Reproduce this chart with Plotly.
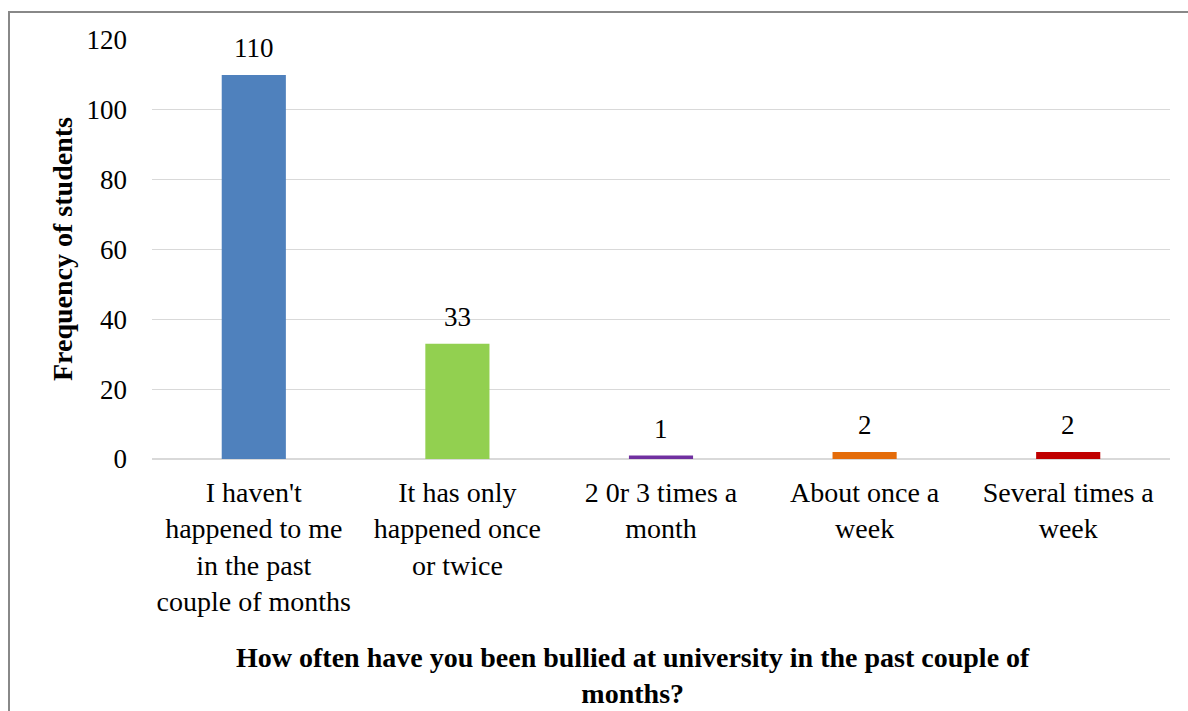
import plotly.graph_objects as go

categories = [
    "I haven't<br>happened to me<br>in the past<br>couple of months",
    "It has only<br>happened once<br>or twice",
    "2 0r 3 times a<br>month",
    "About once a<br>week",
    "Several times a<br>week",
]
values = [110, 33, 1, 2, 2]
colors = ["#4F81BD", "#92D050", "#7030A0", "#E46C0A", "#C00000"]
y_ticks = [0, 20, 40, 60, 80, 100, 120]

FONT = "Liberation Serif, Times New Roman, serif"

fig = go.Figure()
fig.add_trace(go.Bar(
    x=categories, y=values,
    marker=dict(color=colors, line=dict(width=0)),
    cliponaxis=False,
    width=0.315,
))

W, H = 1188, 711
L, R, T, B = 152, 18, 40, 252
pw, ph = W - L - R, H - T - B

def px2x(px):
    return (px - L) / pw

def px2y(py):
    return 1 - (py - T) / ph

annotations = [
    dict(text=str(v), x=c, y=v, xref="x", yref="y", xanchor="center", yanchor="middle",
         yshift=27, showarrow=False, font=dict(family=FONT, size=27, color="black"))
    for c, v in zip(categories, values)
]
annotations += [
    dict(text="<b>How often have you been bullied at university in the past couple of<br>months?</b>",
         xref="paper", yref="paper", x=px2x(633), y=px2y(675), xanchor="center", yanchor="middle",
         showarrow=False, font=dict(family=FONT, size=28, color="black")),
    dict(text="<b>Frequency of students</b>",
         xref="paper", yref="paper", x=px2x(62), y=px2y(249), xanchor="center", yanchor="middle",
         textangle=-90, showarrow=False, font=dict(family=FONT, size=28, color="black")),
]

fig.update_layout(
    width=W, height=H,
    margin=dict(l=L, r=R, t=T, b=B),
    paper_bgcolor="white", plot_bgcolor="white",
    showlegend=False,
    font=dict(family=FONT, size=27, color="black"),
    xaxis=dict(showline=False, ticks="", tickfont=dict(size=28), automargin=False,
               ticklabelstandoff=14),
    yaxis=dict(range=[0, 120], tickvals=y_ticks, showgrid=True, gridcolor="#D9D9D9",
               gridwidth=1, zeroline=True, zerolinecolor="#D9D9D9", zerolinewidth=2,
               showline=False, ticks="", tickfont=dict(size=27), ticklabelstandoff=24,
               automargin=False),
    annotations=annotations,
    shapes=[
        dict(type="line", xref="paper", yref="paper", x0=px2x(9), x1=px2x(9), y0=px2y(11), y1=px2y(715),
             line=dict(color="#888888", width=2)),
        dict(type="line", xref="paper", yref="paper", x0=px2x(8), x1=px2x(1192), y0=px2y(12), y1=px2y(12),
             line=dict(color="#888888", width=2)),
    ],
)

fig.write_html("out.html")
